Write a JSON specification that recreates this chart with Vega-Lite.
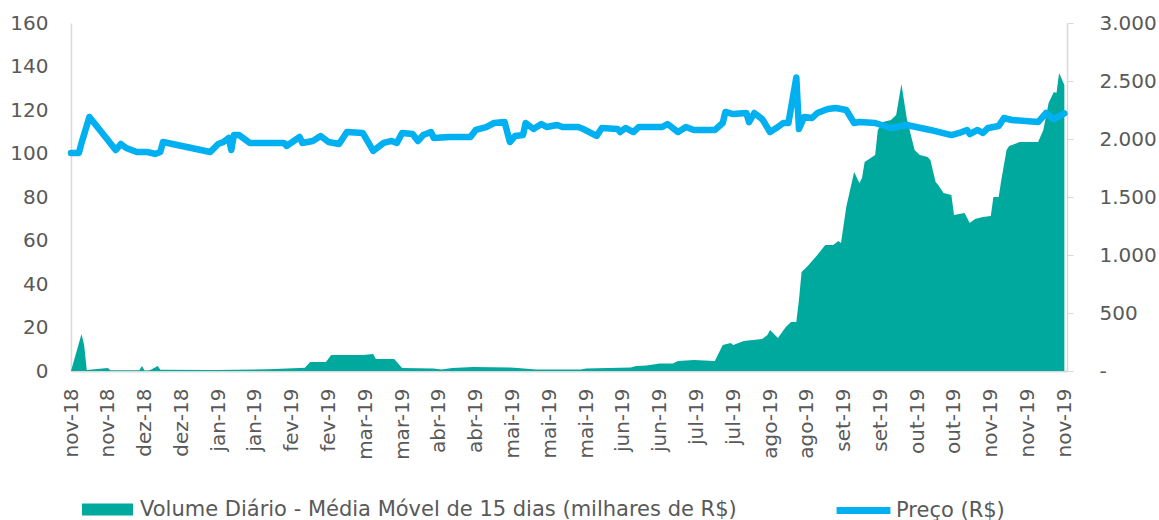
{
  "$schema": "https://vega.github.io/schema/vega-lite/v6.json",
  "width": 996,
  "height": 348,
  "autosize": {"type": "none"},
  "padding": {"left": 71, "top": 23, "right": 92, "bottom": 149},
  "background": "white",
  "config": {
    "view": {"stroke": null},
    "font": "DejaVu Sans",
    "axis": {"labelFont": "DejaVu Sans", "labelFontSize": 20, "labelColor": "#595959", "domainColor": "#D9D9D9", "domainWidth": 1.5, "tickColor": "#D9D9D9", "grid": false, "title": null},
    "axisX": {"labelOverlap": false, "labelFlush": false, "labelBound": false},
    "legend": {"padding": 0, "labelFont": "DejaVu Sans", "labelFontSize": 21, "labelColor": "#595959", "labelLimit": 0, "title": null}
  },
  "datasets": {
    "volume": [
      {"date": "2018-11-16", "v": 0}, {"date": "2018-11-20", "v": 17.0}, {"date": "2018-11-21", "v": 12.0}, {"date": "2018-11-22", "v": 0.5},
      {"date": "2018-11-30", "v": 1.4}, {"date": "2018-12-01", "v": 0.3}, {"date": "2018-12-12", "v": 0.3}, {"date": "2018-12-13", "v": 2.3},
      {"date": "2018-12-14", "v": 0.2}, {"date": "2018-12-16", "v": 0.4}, {"date": "2018-12-19", "v": 2.3}, {"date": "2018-12-20", "v": 0.6},
      {"date": "2019-01-10", "v": 0.5}, {"date": "2019-01-30", "v": 0.8}, {"date": "2019-02-11", "v": 1.4}, {"date": "2019-02-13", "v": 1.5},
      {"date": "2019-02-15", "v": 4.1}, {"date": "2019-02-21", "v": 4.1}, {"date": "2019-02-23", "v": 7.4}, {"date": "2019-03-07", "v": 7.4},
      {"date": "2019-03-11", "v": 7.8}, {"date": "2019-03-12", "v": 5.5}, {"date": "2019-03-19", "v": 5.5}, {"date": "2019-03-22", "v": 1.4},
      {"date": "2019-04-03", "v": 1.1}, {"date": "2019-04-06", "v": 0.7}, {"date": "2019-04-10", "v": 1.4}, {"date": "2019-04-18", "v": 1.8},
      {"date": "2019-05-02", "v": 1.6}, {"date": "2019-05-05", "v": 1.4}, {"date": "2019-05-12", "v": 0.7}, {"date": "2019-05-29", "v": 0.7},
      {"date": "2019-05-31", "v": 1.1}, {"date": "2019-06-17", "v": 1.6}, {"date": "2019-06-19", "v": 2.3}, {"date": "2019-06-23", "v": 2.5},
      {"date": "2019-06-28", "v": 3.4}, {"date": "2019-07-03", "v": 3.4}, {"date": "2019-07-05", "v": 4.6}, {"date": "2019-07-11", "v": 5.1},
      {"date": "2019-07-19", "v": 4.6}, {"date": "2019-07-22", "v": 12.0}, {"date": "2019-07-25", "v": 12.9}, {"date": "2019-07-26", "v": 12.0},
      {"date": "2019-07-30", "v": 13.8}, {"date": "2019-08-06", "v": 14.7}, {"date": "2019-08-08", "v": 16.6}, {"date": "2019-08-09", "v": 18.9},
      {"date": "2019-08-12", "v": 15.2}, {"date": "2019-08-15", "v": 20.2}, {"date": "2019-08-17", "v": 22.5}, {"date": "2019-08-19", "v": 22.5},
      {"date": "2019-08-20", "v": 32.6}, {"date": "2019-08-21", "v": 45.5}, {"date": "2019-08-23", "v": 47.8}, {"date": "2019-08-27", "v": 53.3},
      {"date": "2019-08-30", "v": 57.9}, {"date": "2019-09-02", "v": 57.9}, {"date": "2019-09-04", "v": 59.8}, {"date": "2019-09-05", "v": 58.9},
      {"date": "2019-09-07", "v": 75.4}, {"date": "2019-09-10", "v": 91.5}, {"date": "2019-09-12", "v": 86.4}, {"date": "2019-09-13", "v": 88.7},
      {"date": "2019-09-14", "v": 96.1}, {"date": "2019-09-18", "v": 99.3}, {"date": "2019-09-19", "v": 110.8}, {"date": "2019-09-21", "v": 114.5},
      {"date": "2019-09-24", "v": 115.4}, {"date": "2019-09-26", "v": 117.7}, {"date": "2019-09-28", "v": 132.0}, {"date": "2019-09-30", "v": 116.3},
      {"date": "2019-10-03", "v": 101.6}, {"date": "2019-10-05", "v": 99.3}, {"date": "2019-10-08", "v": 98.4}, {"date": "2019-10-09", "v": 97.0},
      {"date": "2019-10-11", "v": 86.9}, {"date": "2019-10-12", "v": 85.5}, {"date": "2019-10-14", "v": 81.8}, {"date": "2019-10-17", "v": 80.9},
      {"date": "2019-10-18", "v": 71.7}, {"date": "2019-10-22", "v": 72.6}, {"date": "2019-10-24", "v": 68.0}, {"date": "2019-10-26", "v": 69.9},
      {"date": "2019-10-29", "v": 70.8}, {"date": "2019-11-01", "v": 71.3}, {"date": "2019-11-02", "v": 80.0}, {"date": "2019-11-04", "v": 80.0},
      {"date": "2019-11-05", "v": 87.8}, {"date": "2019-11-07", "v": 101.6}, {"date": "2019-11-08", "v": 103.4}, {"date": "2019-11-12", "v": 105.3},
      {"date": "2019-11-19", "v": 105.3}, {"date": "2019-11-21", "v": 110.8}, {"date": "2019-11-23", "v": 123.2}, {"date": "2019-11-25", "v": 128.3},
      {"date": "2019-11-26", "v": 127.8}, {"date": "2019-11-27", "v": 137.0}, {"date": "2019-11-29", "v": 131.5}
    ],
    "price": [
      {"date": "2018-11-16", "p": 1879}, {"date": "2018-11-19", "p": 1879}, {"date": "2018-11-20", "p": 1966}, {"date": "2018-11-23", "p": 2190},
      {"date": "2018-11-30", "p": 1991}, {"date": "2018-12-03", "p": 1905}, {"date": "2018-12-05", "p": 1957}, {"date": "2018-12-07", "p": 1922},
      {"date": "2018-12-11", "p": 1888}, {"date": "2018-12-15", "p": 1888}, {"date": "2018-12-18", "p": 1871}, {"date": "2018-12-20", "p": 1888},
      {"date": "2018-12-21", "p": 1974}, {"date": "2019-01-08", "p": 1888}, {"date": "2019-01-11", "p": 1957}, {"date": "2019-01-13", "p": 1974},
      {"date": "2019-01-15", "p": 2009}, {"date": "2019-01-16", "p": 1905}, {"date": "2019-01-17", "p": 2034}, {"date": "2019-01-19", "p": 2034},
      {"date": "2019-01-23", "p": 1966}, {"date": "2019-02-05", "p": 1966}, {"date": "2019-02-06", "p": 1940}, {"date": "2019-02-11", "p": 2017},
      {"date": "2019-02-12", "p": 1966}, {"date": "2019-02-16", "p": 1983}, {"date": "2019-02-19", "p": 2026}, {"date": "2019-02-22", "p": 1974},
      {"date": "2019-02-26", "p": 1957}, {"date": "2019-03-01", "p": 2060}, {"date": "2019-03-07", "p": 2052}, {"date": "2019-03-11", "p": 1897},
      {"date": "2019-03-15", "p": 1966}, {"date": "2019-03-18", "p": 1983}, {"date": "2019-03-20", "p": 1966}, {"date": "2019-03-22", "p": 2052},
      {"date": "2019-03-26", "p": 2043}, {"date": "2019-03-28", "p": 1983}, {"date": "2019-03-30", "p": 2034}, {"date": "2019-04-02", "p": 2060},
      {"date": "2019-04-03", "p": 2009}, {"date": "2019-04-09", "p": 2017}, {"date": "2019-04-17", "p": 2017}, {"date": "2019-04-19", "p": 2078},
      {"date": "2019-04-23", "p": 2103}, {"date": "2019-04-26", "p": 2138}, {"date": "2019-04-30", "p": 2146}, {"date": "2019-05-02", "p": 1974},
      {"date": "2019-05-04", "p": 2026}, {"date": "2019-05-07", "p": 2034}, {"date": "2019-05-08", "p": 2138}, {"date": "2019-05-11", "p": 2086},
      {"date": "2019-05-14", "p": 2129}, {"date": "2019-05-16", "p": 2103}, {"date": "2019-05-20", "p": 2121}, {"date": "2019-05-22", "p": 2103},
      {"date": "2019-05-28", "p": 2103}, {"date": "2019-05-30", "p": 2086}, {"date": "2019-06-04", "p": 2026}, {"date": "2019-06-06", "p": 2095},
      {"date": "2019-06-12", "p": 2086}, {"date": "2019-06-13", "p": 2060}, {"date": "2019-06-15", "p": 2095}, {"date": "2019-06-18", "p": 2060},
      {"date": "2019-06-20", "p": 2103}, {"date": "2019-06-29", "p": 2103}, {"date": "2019-07-01", "p": 2129}, {"date": "2019-07-05", "p": 2060},
      {"date": "2019-07-08", "p": 2103}, {"date": "2019-07-11", "p": 2078}, {"date": "2019-07-19", "p": 2078}, {"date": "2019-07-22", "p": 2138},
      {"date": "2019-07-23", "p": 2233}, {"date": "2019-07-26", "p": 2215}, {"date": "2019-07-31", "p": 2224}, {"date": "2019-08-01", "p": 2146},
      {"date": "2019-08-03", "p": 2224}, {"date": "2019-08-06", "p": 2172}, {"date": "2019-08-09", "p": 2060}, {"date": "2019-08-12", "p": 2103},
      {"date": "2019-08-14", "p": 2138}, {"date": "2019-08-16", "p": 2138}, {"date": "2019-08-19", "p": 2530}, {"date": "2019-08-20", "p": 2086},
      {"date": "2019-08-22", "p": 2190}, {"date": "2019-08-25", "p": 2181}, {"date": "2019-08-27", "p": 2224}, {"date": "2019-08-31", "p": 2259},
      {"date": "2019-09-03", "p": 2267}, {"date": "2019-09-07", "p": 2250}, {"date": "2019-09-10", "p": 2138}, {"date": "2019-09-12", "p": 2146},
      {"date": "2019-09-18", "p": 2138}, {"date": "2019-09-24", "p": 2095}, {"date": "2019-09-30", "p": 2121}, {"date": "2019-10-09", "p": 2078},
      {"date": "2019-10-17", "p": 2034}, {"date": "2019-10-20", "p": 2052}, {"date": "2019-10-23", "p": 2078}, {"date": "2019-10-24", "p": 2043},
      {"date": "2019-10-27", "p": 2078}, {"date": "2019-10-29", "p": 2052}, {"date": "2019-10-31", "p": 2095}, {"date": "2019-11-04", "p": 2112},
      {"date": "2019-11-06", "p": 2181}, {"date": "2019-11-09", "p": 2164}, {"date": "2019-11-19", "p": 2146}, {"date": "2019-11-22", "p": 2224},
      {"date": "2019-11-25", "p": 2172}, {"date": "2019-11-29", "p": 2220}
    ]
  },
  "encoding": {
    "x": {
      "field": "date", "type": "temporal",
      "scale": {"type": "utc", "domain": [{"year": 2018, "month": 11, "date": 16, "utc": true}, {"year": 2019, "month": 11, "date": 30, "utc": true}]},
      "axis": {
        "values": [
          {"year": 2018, "month": 11, "date": 16, "utc": true}, {"year": 2018, "month": 11, "date": 30, "utc": true},
          {"year": 2018, "month": 12, "date": 14, "utc": true}, {"year": 2018, "month": 12, "date": 28, "utc": true},
          {"year": 2019, "month": 1, "date": 11, "utc": true}, {"year": 2019, "month": 1, "date": 25, "utc": true},
          {"year": 2019, "month": 2, "date": 8, "utc": true}, {"year": 2019, "month": 2, "date": 22, "utc": true},
          {"year": 2019, "month": 3, "date": 8, "utc": true}, {"year": 2019, "month": 3, "date": 22, "utc": true},
          {"year": 2019, "month": 4, "date": 5, "utc": true}, {"year": 2019, "month": 4, "date": 19, "utc": true},
          {"year": 2019, "month": 5, "date": 3, "utc": true}, {"year": 2019, "month": 5, "date": 17, "utc": true},
          {"year": 2019, "month": 5, "date": 31, "utc": true}, {"year": 2019, "month": 6, "date": 14, "utc": true},
          {"year": 2019, "month": 6, "date": 28, "utc": true}, {"year": 2019, "month": 7, "date": 12, "utc": true},
          {"year": 2019, "month": 7, "date": 26, "utc": true}, {"year": 2019, "month": 8, "date": 9, "utc": true},
          {"year": 2019, "month": 8, "date": 23, "utc": true}, {"year": 2019, "month": 9, "date": 6, "utc": true},
          {"year": 2019, "month": 9, "date": 20, "utc": true}, {"year": 2019, "month": 10, "date": 4, "utc": true},
          {"year": 2019, "month": 10, "date": 18, "utc": true}, {"year": 2019, "month": 11, "date": 1, "utc": true},
          {"year": 2019, "month": 11, "date": 15, "utc": true}, {"year": 2019, "month": 11, "date": 29, "utc": true}
        ],
        "labelExpr": "['jan','fev','mar','abr','mai','jun','jul','ago','set','out','nov','dez'][utcmonth(datum.value)] + '-' + utcFormat(datum.value, '%y')",
        "labelAngle": -90,
        "labelPadding": 17,
        "ticks": false,
        "domainWidth": 2,
        "labelOverlap": false,
        "labelFlush": false
      }
    }
  },
  "layer": [
    {
      "data": {"name": "volume"},
      "mark": {"type": "area", "interpolate": "linear"},
      "encoding": {
        "y": {
          "field": "v", "type": "quantitative",
          "scale": {"domain": [0, 160], "nice": false},
          "axis": {"values": [0, 20, 40, 60, 80, 100, 120, 140, 160], "ticks": false, "labelPadding": 23, "orient": "left"}
        },
        "fill": {
          "datum": "Volume Diário - Média Móvel de 15 dias (milhares de R$)",
          "scale": {"range": ["#00A99D"]},
          "legend": {
            "orient": "none", "legendX": 11, "legendY": 461,
            "symbolType": "M-1,-0.24H1V0.24H-1Z", "symbolSize": 2601, "symbolStrokeWidth": 0, "labelOffset": 7
          }
        }
      }
    },
    {
      "data": {"name": "price"},
      "mark": {"type": "line", "strokeWidth": 6.5, "strokeCap": "round", "strokeJoin": "round"},
      "encoding": {
        "y": {
          "field": "p", "type": "quantitative",
          "scale": {"domain": [0, 3000], "nice": false},
          "axis": {
            "orient": "right", "values": [0, 500, 1000, 1500, 2000, 2500, 3000], "tickSize": 6, "labelPadding": 26,
            "labelExpr": "datum.value == 0 ? '-' : replace(format(datum.value, ','), ',', '.')"
          }
        },
        "stroke": {
          "datum": "Preço (R$)",
          "scale": {"range": ["#00B0F0"]},
          "legend": {
            "orient": "none", "legendX": 762, "legendY": 457,
            "symbolType": "stroke", "symbolSize": 2900, "symbolStrokeWidth": 7, "labelOffset": 2
          }
        }
      }
    }
  ],
  "resolve": {"scale": {"y": "independent"}, "axis": {"y": "independent"}}
}
